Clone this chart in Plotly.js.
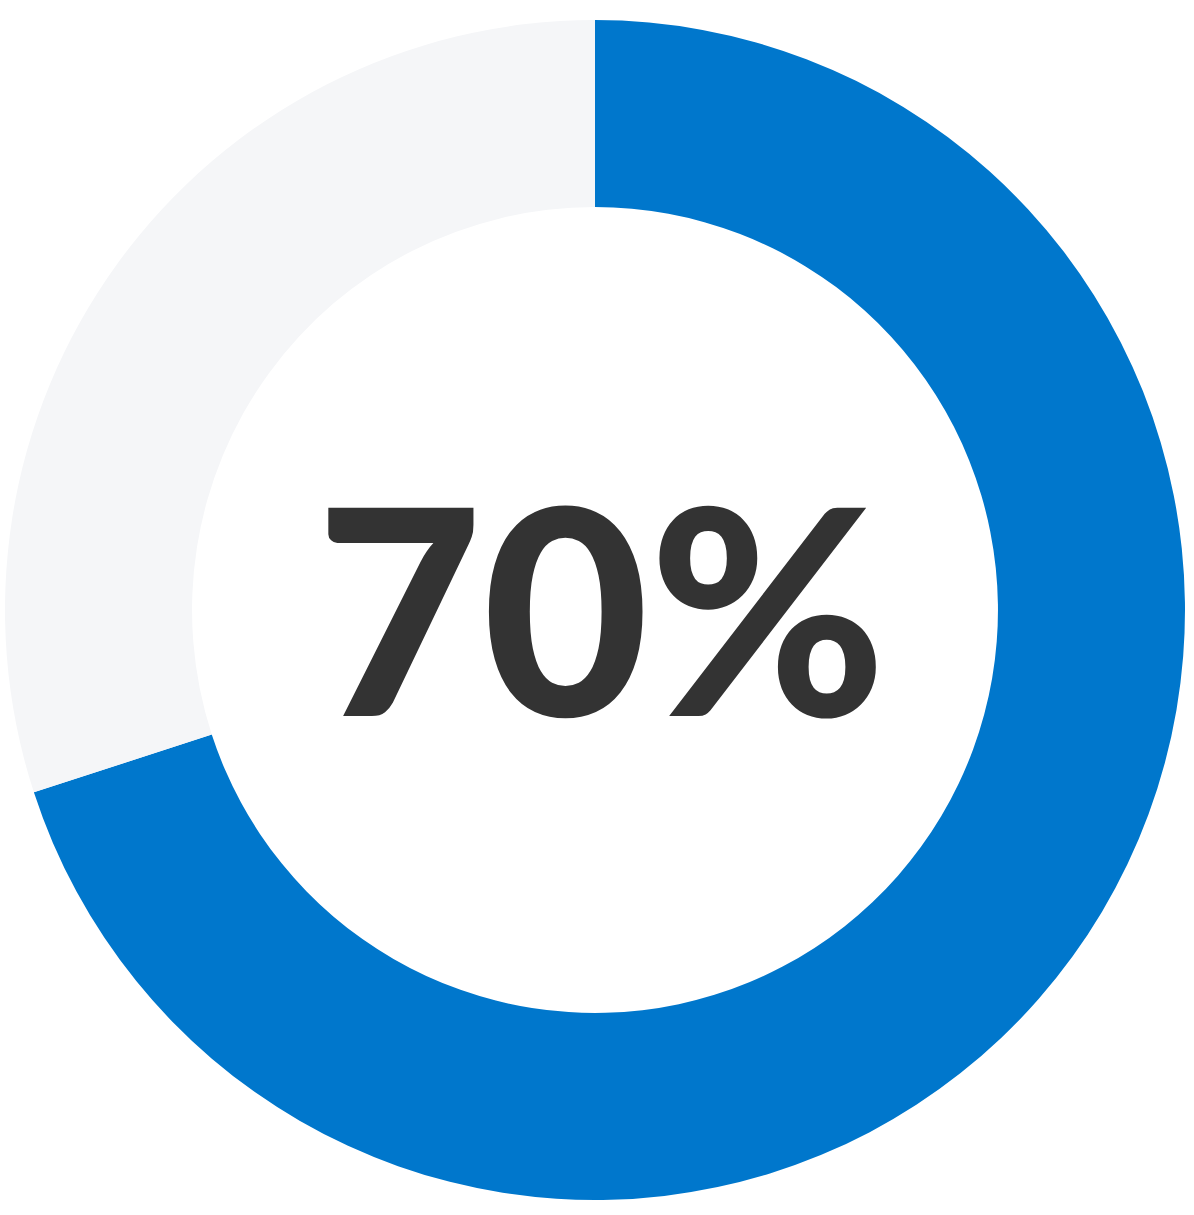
<!DOCTYPE html>
<html>
<head>
<meta charset="utf-8">
<script src="https://cdn.plot.ly/plotly-3.0.1.min.js"></script>
<style>
  html, body { margin: 0; padding: 0; background: #fff; }
  #chart { width: 1194px; height: 1215px; }
</style>
</head>
<body>
<div id="chart"></div>
<script>
const labels = ['Done', 'Remaining'];
const values = [70, 30];
const sliceColors = ['#0077CC', '#F5F6F8'];
const centerLabel = values[0] + '%';

function main() {
    // donut, first slice from 12 o'clock going clockwise
    var data = [{
        type: 'pie',
        labels: labels,
        values: values,
        hole: 0.683,
        sort: false,
        direction: 'clockwise',
        rotation: 0,
        textinfo: 'none',
        hoverinfo: 'none',
        marker: { colors: sliceColors, line: { width: 0 } },
        domain: { x: [5 / 1194, 1185 / 1194], y: [15 / 1215, 1195 / 1215] }
    }];

    var layout = {
        width: 1194,
        height: 1215,
        margin: { l: 0, r: 0, t: 0, b: 0 },
        showlegend: false,
        paper_bgcolor: '#ffffff',
        annotations: [{
            text: centerLabel,
            x: 0.503, y: 0.502,
            xref: 'paper', yref: 'paper',
            showarrow: false,
            font: { family: 'Lato, Inter, sans-serif', size: 287, weight: 900, color: '#333333' }
        }]
    };

    Plotly.newPlot('chart', data, layout, { displayModeBar: false, staticPlot: true });
}
main();
</script>
</body>
</html>
